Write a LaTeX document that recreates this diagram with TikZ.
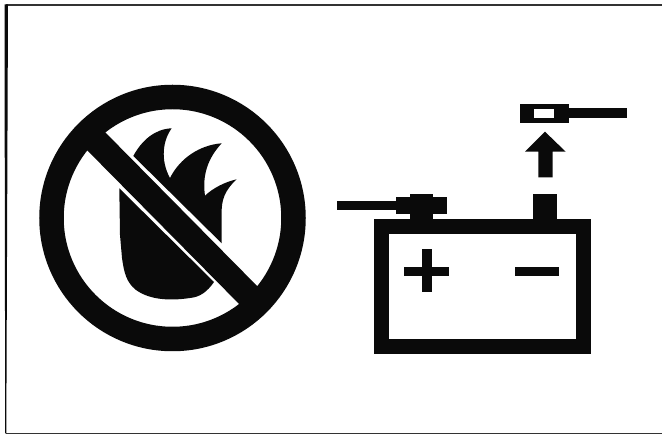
\documentclass[tikz,border=0pt]{standalone}
\usepackage{tikz}
\definecolor{ink}{HTML}{0A0A0A}
\definecolor{rim}{HTML}{333333}
\tikzset{
  blk/.style={fill=ink, draw=none},
  gap/.style={fill=white, draw=none},
  ring/.style={draw=ink, line width=24.5pt},
  frm/.style={draw=rim, line width=1.5pt},
}
\begin{document}
\begin{tikzpicture}[x=1pt, y=-1pt]
    \useasboundingbox (0,0) rectangle (662,435);
    \draw[frm] (5.5,5) -- (662,5);
    \draw[frm] (5.5,433.3) -- (662,433.3);
    \fill[blk] (4.5,4.5) -- (8,4.5) -- (6.3,433.5) -- (5.2,433.5) -- cycle;
    % flame
    \fill[blk] (119.3,188.3) -- (214,282) .. controls (207,292) and (200,297) .. (190,298)
      .. controls (170,301) and (150,300) .. (136,290)
      .. controls (126,282) and (124,272) .. (122,258) -- (120,235) -- cycle;
    \fill[blk] (133.3,156) .. controls (142,140) and (155,129) .. (171.7,128.3)
      .. controls (163,140) and (160,160) .. (170,178)
      .. controls (180,158) and (200,145) .. (221.7,143.3)
      .. controls (208,158) and (202,175) .. (205,195.7)
      .. controls (213,188) and (225,182) .. (236.7,179.3)
      .. controls (225,190) and (221,200) .. (221.7,215) -- (221.7,243.3) -- cycle;
    % no-entry sign
    \draw[ring] (172.5,218) circle (121);
    \fill[blk] (98,125) -- (264,293) -- (246,311) -- (80,143) -- cycle;
    % battery
    \draw[draw=ink, line width=15pt] (381.5,226.5) rectangle (583.2,347);
    \fill[blk] (533.3,194) rectangle (557.3,220);
    \fill[blk] (410,194) rectangle (433.3,220);
    \fill[blk] (395.7,197.3) rectangle (446.7,214);
    \fill[blk] (336.7,200.7) rectangle (396,210);
    \fill[blk] (404,266.7) rectangle (449,275.7);
    \fill[blk] (422.3,249.3) rectangle (431.7,291.7);
    \fill[blk] (515,267.3) rectangle (559.3,276);
    % lifted clamp
    \fill[blk] (545,131.7) -- (565.7,151.7) -- (552.7,151.7) -- (552.7,177.3)
      -- (538.3,177.3) -- (538.3,151.7) -- (525,151.7) -- cycle;
    \fill[blk] (520,104) rectangle (569.3,122.7);
    \fill[blk] (569,108.3) rectangle (626.7,118.3);
    \fill[gap] (534,109) rectangle (554.3,118.3);
  \end{tikzpicture}
\end{document}
